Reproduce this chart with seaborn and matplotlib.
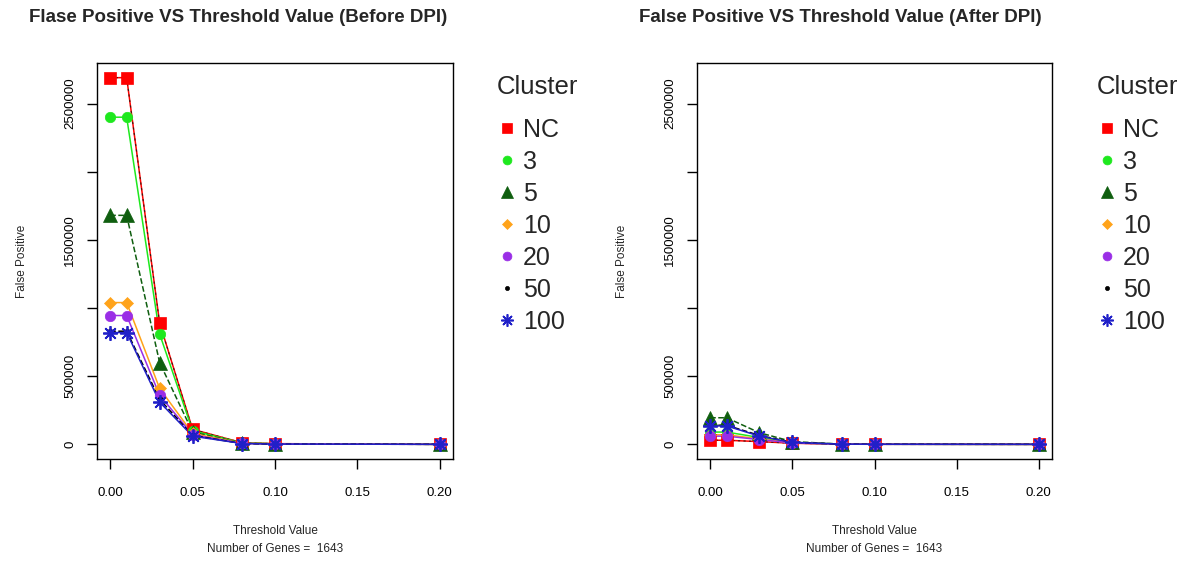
import matplotlib
matplotlib.use("Agg")
import matplotlib.pyplot as plt
from matplotlib.lines import Line2D
import seaborn as sns
import pandas as pd

# Threshold values tested
thresholds = [0.00, 0.01, 0.03, 0.05, 0.08, 0.10, 0.20]

# Cluster labels
clusters = ["NC", "3", "5", "10", "20", "50", "100"]

# False positives before DPI, one list per cluster
before_nc = [2690000, 2690000, 890000, 110000, 12000, 5000, 0]
before_3 = [2400000, 2400000, 810000, 100000, 10000, 4000, 0]
before_5 = [1680000, 1680000, 600000, 90000, 9000, 3000, 0]
before_10 = [1040000, 1040000, 410000, 80000, 8000, 3000, 0]
before_20 = [945000, 945000, 360000, 70000, 7000, 2000, 0]
before_50 = [830000, 830000, 330000, 65000, 6000, 2000, 0]
before_100 = [820000, 820000, 310000, 60000, 6000, 2000, 0]

# False positives after DPI, one list per cluster
after_nc = [30000, 30000, 20000, 8000, 1000, 500, 0]
after_3 = [90000, 90000, 50000, 12000, 1500, 500, 0]
after_5 = [195000, 195000, 85000, 20000, 2000, 800, 0]
after_10 = [70000, 70000, 40000, 10000, 1200, 500, 0]
after_20 = [60000, 60000, 35000, 10000, 1000, 400, 0]
after_50 = [140000, 140000, 65000, 15000, 1500, 500, 0]
after_100 = [135000, 135000, 60000, 14000, 1500, 500, 0]

y_ticks = [0, 500000, 1000000, 1500000, 2000000, 2500000]
y_tick_labels = ["0", "500000", "", "1500000", "", "2500000"]
x_ticks = [0.00, 0.05, 0.10, 0.15, 0.20]
x_tick_labels = ["0.00", "0.05", "0.10", "0.15", "0.20"]
n_genes = 1643

before = [before_nc, before_3, before_5, before_10, before_20, before_50, before_100]
after = [after_nc, after_3, after_5, after_10, after_20, after_50, after_100]

# Style per cluster: colour, marker, marker size, line style
colors = ["#ff0000", "#1ee81e", "#0f5e0f", "#ffa31a", "#9a2ee6", "#000000", "#2020c8"]
markers = ["s", "o", "^", "D", "o", ".", (8, 2, 0)]
msizes = [8.0, 7.5, 9.5, 6.0, 7.5, 7.0, 10.5]
lstyles = ["-", "-", "--", "-", "-", "--", "-"]

sns.set_theme(style="white")
plt.rcParams["font.family"] = ["Liberation Sans", "DejaVu Sans"]
plt.rcParams["axes.linewidth"] = 1.0

W, H = 1192, 570
fig = plt.figure(figsize=(W / 100, H / 100), dpi=100)
fig.patch.set_facecolor("white")


def px_axes(x0, y0, x1, y1):
    return fig.add_axes([x0 / W, 1 - y1 / H, (x1 - x0) / W, (y1 - y0) / H])


ymax = max(max(s) for s in before)
ylim = (-0.04 * ymax, 1.04 * ymax)
xlim = (-0.008, 0.208)


def draw_panel(ax, series):
    for vals, c, m, ms, ls in zip(series, colors, markers, msizes, lstyles):
        df = pd.DataFrame({"threshold": thresholds, "fp": vals})
        sns.lineplot(data=df, x="threshold", y="fp", ax=ax, color=c,
                     linestyle=ls, linewidth=1.1, zorder=2)
        if c == "#ff0000":
            sns.lineplot(data=df, x="threshold", y="fp", ax=ax, color="#3a1a10",
                         linestyle=(0, (2, 3)), linewidth=0.8, zorder=2)
        sns.lineplot(data=df, x="threshold", y="fp", ax=ax, color=c,
                     linestyle="none", marker=m, markersize=ms,
                     markeredgecolor=c,
                     markeredgewidth=1.3 if m == (8, 2, 0) else 0.5,
                     zorder=3)
    ax.set_xlim(*xlim)
    ax.set_ylim(*ylim)
    ax.set_xticks(x_ticks)
    ax.set_xticklabels(x_tick_labels)
    ax.set_yticks(y_ticks)
    ax.set_yticklabels(y_tick_labels, rotation=90, va="center")
    ax.set_xlabel("")
    ax.set_ylabel("")
    ax.tick_params(axis="both", direction="out", length=7, width=1.0,
                   colors="black", labelsize=9.5, bottom=True, left=True)
    ax.tick_params(axis="x", pad=13.5)
    ax.tick_params(axis="y", pad=8)
    for sp in ax.spines.values():
        sp.set_color("black")
        sp.set_linewidth(1.0)
    ax.set_facecolor("white")


def draw_legend(ax, x_px, y_px):
    handles = [Line2D([], [], color=c, marker=m, linestyle="none",
                      markersize=ms * 0.85,
                      markeredgewidth=1.2 if m == (8, 2, 0) else 0.5)
               for c, m, ms in zip(colors, markers, msizes)]
    fig.text(x_px / W, 1 - y_px / H, "Cluster", ha="left", va="center", fontsize=18.5)
    leg = ax.legend(handles, clusters, frameon=False,
                    loc="upper left", bbox_to_anchor=(x_px / W, 1 - (y_px + 31) / H),
                    bbox_transform=fig.transFigure, fontsize=18,
                    handlelength=0.8, handletextpad=0.25, labelspacing=0.32,
                    borderaxespad=0, borderpad=0)
    return leg


panels = [
    ((97, 63, 453, 459), before, "Flase Positive VS Threshold Value (Before DPI)", 238, 22, 497),
    ((697, 63, 1052, 459), after, "False Positive VS Threshold Value (After DPI)", 840, 622, 1097),
]

for (x0, y0, x1, y1), series, title, tx, ylab_x, leg_x in panels:
    ax = px_axes(x0, y0, x1, y1)
    draw_panel(ax, series)
    fig.text(tx / W, 1 - 18 / H, title, ha="center", va="center",
             fontsize=13.5, fontweight="bold")
    cx = (x0 + x1) / 2
    fig.text(cx / W, 1 - 531 / H, "Threshold Value", ha="center", va="center", fontsize=8.5)
    fig.text(cx / W, 1 - 549 / H, f"Number of Genes =  {n_genes}", ha="center",
             va="center", fontsize=8.5)
    fig.text(ylab_x / W, 1 - ((y0 + y1) / 2) / H, "False Positive", rotation=90,
             ha="center", va="center", fontsize=8.5)
    draw_legend(ax, leg_x, 87)

fig.savefig("out.png", dpi=100, facecolor="white")
